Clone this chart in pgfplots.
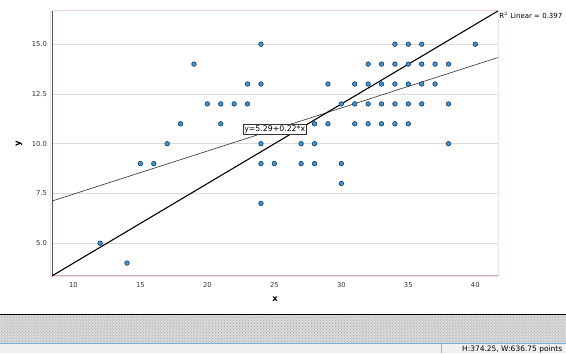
\documentclass[border=0pt]{standalone}
\usepackage{fontspec}
\setmainfont{DejaVu Sans}
\setsansfont{DejaVu Sans}
\usepackage{pgfplots}
\pgfplotsset{compat=1.18}
\usetikzlibrary{patterns}
\definecolor{ptfill}{RGB}{58,150,220}
\definecolor{ptdraw}{RGB}{30,55,85}
\definecolor{gridc}{RGB}{218,218,218}
\definecolor{framepink}{RGB}{240,210,226}
\definecolor{bottomline}{RGB}{205,170,185}
\definecolor{statusblue}{RGB}{120,175,225}
\begin{document}
\begin{tikzpicture}[x=1pt,y=1pt]
\fill[white] (0,0) rectangle (566,354);
% bottom band (window status area)
\fill[gray!28] (0,10) rectangle (566,39);
\fill[pattern=crosshatch dots, pattern color=gray!75] (0,10) rectangle (566,39);
\draw[black, line width=1pt] (0,39) -- (566,39);
\fill[statusblue] (0,9) rectangle (566,10.3);
\fill[gray!12] (0,0) rectangle (566,9);
\draw[gray!60, line width=0.4pt] (441,0) -- (441,9);
\node[anchor=east, font=\fontsize{7.5}{8}\selectfont, inner sep=0pt] at (563,4.3) {H:374.25, W:636.75 points};
% plot frame
\draw[framepink, line width=0.8pt, rounded corners=2pt] (49.8,76.8) rectangle (499.2,343.4);
\begin{axis}[
  at={(51.7pt,77.7pt)}, anchor=south west,
  scale only axis, width=446.6pt, height=265.3pt,
  xmin=8.41, xmax=41.69, ymin=3.36, ymax=16.67,
  xtick={10,15,20,25,30,35,40},
  ytick={5,7.5,10,12.5,15},
  yticklabel style={/pgf/number format/fixed, /pgf/number format/fixed zerofill, /pgf/number format/precision=1, xshift=-1.7pt},
  /pgf/number format/assume math mode=true,
  tick label style={font=\fontsize{6.8}{8}\selectfont, text=black!80},
  xticklabel style={yshift=-3.2pt},
  major tick length=0pt,
  axis line style={draw=none},
  ymajorgrids, grid style={gridc, line width=0.8pt},
  xlabel={x}, ylabel={y},
  xlabel style={font=\bfseries\fontsize{8.5}{9}\selectfont, at={(axis description cs:0.5,-0.0893)}, anchor=center},
  ylabel style={font=\bfseries\fontsize{8.5}{9}\selectfont, at={(axis description cs:-0.0743,0.5)}, anchor=center},
  clip=false,
]
\draw[gray!65!black, line width=0.8pt] (axis cs:8.41,3.36) -- (axis cs:8.41,16.67);
\draw[bottomline, line width=1.3pt] (axis cs:8.41,3.36) -- (axis cs:41.69,3.36);
\addplot[only marks, mark=*, mark size=2.3pt, mark options={fill=ptfill, draw=ptdraw, line width=0.6pt}] coordinates {
(12,5) (14,4) (15,9) (16,9) (17,10) (18,11) (19,14) (20,12) (21,12) (21,11)
(22,12) (23,12) (23,13) (24,13) (24,15) (24,10) (24,9) (24,7) (25,9)
(27,10) (27,9) (28,10) (28,9) (28,11) (29,11) (29,13)
(30,12) (30,9) (30,8)
(31,11) (31,12) (31,13)
(32,11) (32,12) (32,13) (32,14)
(33,11) (33,12) (33,13) (33,14)
(34,11) (34,12) (34,13) (34,14) (34,15)
(35,11) (35,12) (35,13) (35,14) (35,15)
(36,12) (36,13) (36,14) (36,15)
(37,13) (37,14)
(38,14) (38,12) (38,10)
(40,15)
};
\addplot[gray!35!black, line width=0.6pt] coordinates {(8.41,7.12) (41.69,14.33)};
\addplot[black, line width=1.1pt] coordinates {(8.41,3.36) (41.69,16.67)};
\node[draw=black!80, fill=white, line width=0.6pt, font=\fontsize{7.8}{8.5}\selectfont, inner sep=1.4pt] at (axis cs:25.03,10.74) {y=5.29+0.22*x};
\node[anchor=west, font=\fontsize{7}{8}\selectfont, inner sep=0pt, xshift=1.2pt, yshift=-4.7pt] at (rel axis cs:1,1) {R$^2$ Linear = 0.397};
\end{axis}
\end{tikzpicture}
\end{document}
